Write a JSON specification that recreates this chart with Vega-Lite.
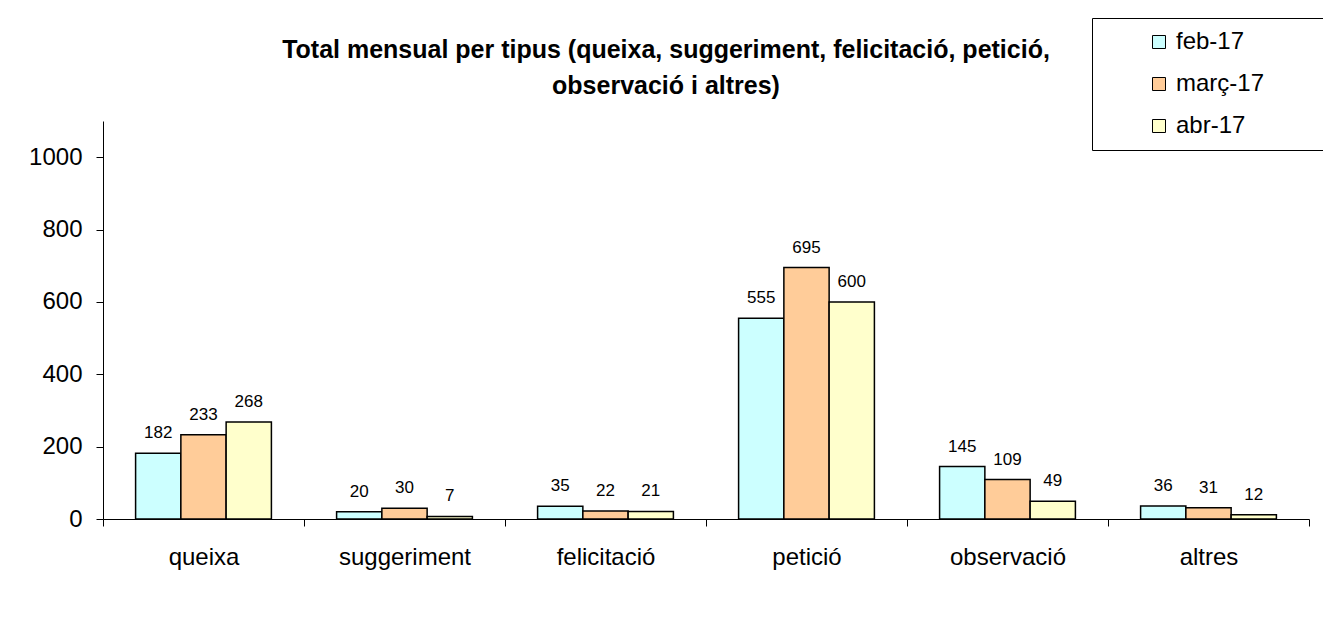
{
  "$schema": "https://vega.github.io/schema/vega-lite/v6.json",
  "width": 1206,
  "height": 398,
  "autosize": {"type": "none"},
  "padding": {"left": 103, "top": 121, "right": 14, "bottom": 102},
  "background": "white",
  "config": {
    "font": "Liberation Sans",
    "view": {"stroke": null},
    "axis": {"labelFont": "Liberation Sans", "labelColor": "black", "domainColor": "black", "tickColor": "black", "domainWidth": 1, "tickWidth": 1}
  },
  "title": {
    "text": ["Total mensual per tipus (queixa, suggeriment, felicitació, petició,", "observació i altres)"],
    "font": "Liberation Sans",
    "fontSize": 25,
    "fontWeight": "bold",
    "color": "black",
    "anchor": "middle",
    "dx": -40,
    "lineHeight": 36,
    "offset": -81
  },
  "data": {
    "values": [
      {"tipus": "queixa", "mes": "feb-17", "valor": 182},
      {"tipus": "queixa", "mes": "març-17", "valor": 233},
      {"tipus": "queixa", "mes": "abr-17", "valor": 268},
      {"tipus": "suggeriment", "mes": "feb-17", "valor": 20},
      {"tipus": "suggeriment", "mes": "març-17", "valor": 30},
      {"tipus": "suggeriment", "mes": "abr-17", "valor": 7},
      {"tipus": "felicitació", "mes": "feb-17", "valor": 35},
      {"tipus": "felicitació", "mes": "març-17", "valor": 22},
      {"tipus": "felicitació", "mes": "abr-17", "valor": 21},
      {"tipus": "petició", "mes": "feb-17", "valor": 555},
      {"tipus": "petició", "mes": "març-17", "valor": 695},
      {"tipus": "petició", "mes": "abr-17", "valor": 600},
      {"tipus": "observació", "mes": "feb-17", "valor": 145},
      {"tipus": "observació", "mes": "març-17", "valor": 109},
      {"tipus": "observació", "mes": "abr-17", "valor": 49},
      {"tipus": "altres", "mes": "feb-17", "valor": 36},
      {"tipus": "altres", "mes": "març-17", "valor": 31},
      {"tipus": "altres", "mes": "abr-17", "valor": 12}
    ]
  },
  "encoding": {
    "x": {
      "field": "tipus",
      "type": "nominal",
      "sort": ["queixa", "suggeriment", "felicitació", "petició", "observació", "altres"],
      "scale": {"paddingInner": 0, "paddingOuter": 0},
      "axis": {"title": null, "labelAngle": 0, "labelFontSize": 24, "labelPadding": 19, "tickSize": 7, "tickBand": "extent", "domainWidth": 1}
    },
    "xOffset": {
      "field": "mes",
      "type": "nominal",
      "sort": ["feb-17", "març-17", "abr-17"],
      "scale": {"paddingInner": 0, "paddingOuter": 0.72}
    },
    "y": {
      "field": "valor",
      "type": "quantitative",
      "scale": {"domain": [0, 1100], "nice": false},
      "axis": {"title": null, "values": [0, 200, 400, 600, 800, 1000], "format": "d", "grid": false, "labelFontSize": 24, "labelPadding": 14, "tickSize": 7}
    }
  },
  "layer": [
    {
      "mark": {"type": "bar", "stroke": "black", "strokeWidth": 1.5},
      "encoding": {
        "fill": {
          "field": "mes",
          "type": "nominal",
          "sort": ["feb-17", "març-17", "abr-17"],
          "scale": {"domain": ["feb-17", "març-17", "abr-17"], "range": ["#CCFFFF", "#FFCC99", "#FFFFCC"]},
          "legend": {
            "title": null,
            "orient": "none",
            "legendX": 989,
            "legendY": -103,
            "strokeColor": "black",
            "fillColor": "white",
            "padding": 12,
            "rowPadding": 18,
            "symbolType": "square",
            "symbolSize": 169,
            "symbolStrokeColor": "black",
            "symbolStrokeWidth": 1,
            "symbolOffset": 43,
            "labelOffset": 5,
            "labelFontSize": 24,
            "labelFont": "Liberation Sans",
            "labelColor": "black",
            "labelExpr": "datum.label + '\u2800\u2800\u2800'"
          }
        }
      }
    },
    {
      "mark": {"type": "text", "baseline": "alphabetic", "dy": -15, "fontSize": 17, "font": "Liberation Sans", "color": "black"},
      "encoding": {
        "text": {"field": "valor", "type": "quantitative"}
      }
    }
  ]
}
